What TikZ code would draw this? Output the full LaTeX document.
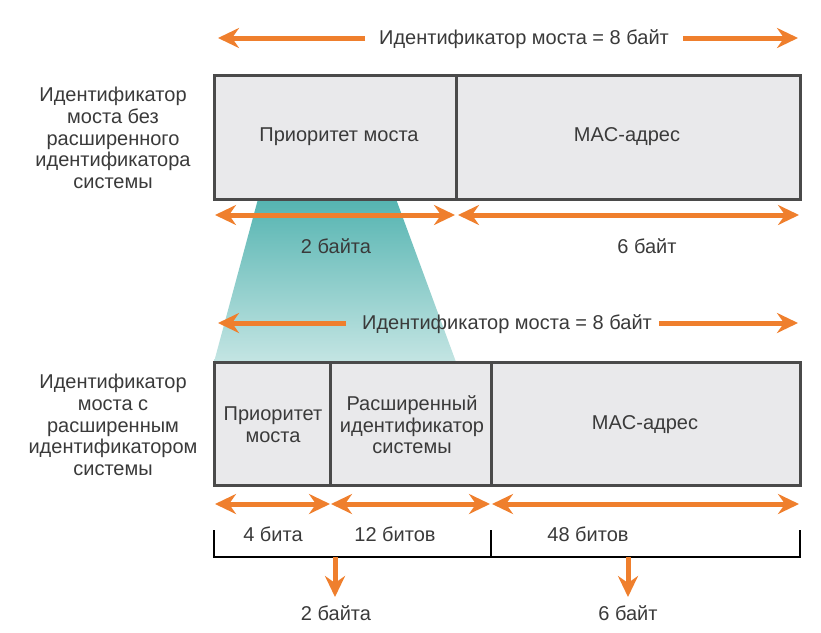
\documentclass[tikz,border=0pt]{standalone}
\usepackage{fontspec}
\setmainfont{Liberation Sans}
\usetikzlibrary{arrows.meta}
\definecolor{org}{HTML}{EF7F2D}
\definecolor{txt}{HTML}{3A3A3A}
\definecolor{boxfill}{HTML}{E9E9EB}
\definecolor{boxline}{HTML}{4A4A4A}
\definecolor{tealtop}{HTML}{55B4B1}
\definecolor{tealbot}{HTML}{C4E5E3}
\tikzset{
  lbl/.style={text=txt, font=\fontsize{20}{21.6}\selectfont, align=center, inner sep=0pt},
  fieldbox/.style={draw=boxline, line width=3pt, fill=boxfill},
  oarr/.style={draw=org, line width=5pt, -{Stealth[length=21pt,width=20pt,inset=7pt]}},
  oarr2/.style={draw=org, line width=5pt, {Stealth[length=21pt,width=20pt,inset=7pt]}-{Stealth[length=21pt,width=20pt,inset=7pt]}},
  brk/.style={draw=black, line width=1.2pt},
}
\begin{document}
\begin{tikzpicture}[x=1pt,y=-1pt]
\useasboundingbox (0,0) rectangle (821,632);
% trapezoid
\shade[top color=tealtop, bottom color=tealbot] (258,199) -- (396,199) -- (456,362) -- (214,362) -- cycle;
% top section
\node[lbl] (t1) at (524,39) {Идентификатор моста = 8 байт};
\coordinate (t1l) at (218,38);
\coordinate (t1r) at (798,38);
\draw[oarr] (365,38) -- (t1l);
\draw[oarr] (683,38) -- (t1r);
\draw[fieldbox] (214,75) rectangle (800,199);
\draw[boxline, line width=3pt] (456,75) -- (456,199);
\node[lbl] (p1) at (339,137) {Приоритет моста};
\node[lbl] (m1) at (627,137) {MAC-адрес};
\node[lbl] (L1) at (113,138) {Идентификатор\\моста без\\расширенного\\идентификатора\\системы};
\coordinate (a1) at (215,215); \coordinate (a2) at (455,215);
\coordinate (a3) at (458,215); \coordinate (a4) at (799,215);
\draw[oarr2] (a1) -- (a2);
\draw[oarr2] (a3) -- (a4);
\node[lbl] (b2) at (336,246) {2 байта};
\node[lbl] (b6) at (647,246) {6 байт};
% middle
\node[lbl] (t2) at (507,324) {Идентификатор моста = 8 байт};
\coordinate (t2l) at (218,323);
\coordinate (t2r) at (798,323);
\draw[oarr] (346,323) -- (t2l);
\draw[oarr] (659,323) -- (t2r);
% bottom box
\draw[fieldbox] (214,362) rectangle (800,485);
\draw[boxline, line width=3pt] (330,362) -- (330,485);
\draw[boxline, line width=3pt] (491,362) -- (491,485);
\node[lbl] (p2) at (273,425) {Приоритет\\моста};
\node[lbl] (e2) at (412,425) {Расширенный\\идентификатор\\системы};
\node[lbl] (m2) at (645,425) {MAC-адрес};
\node[lbl] (L2) at (113,425) {Идентификатор\\моста с\\расширенным\\идентификатором\\системы};
\coordinate (c1) at (215,504); \coordinate (c2) at (330,504);
\coordinate (c3) at (331,504); \coordinate (c4) at (490,504);
\coordinate (c5) at (492,504); \coordinate (c6) at (799,504);
\draw[oarr2] (c1) -- (c2);
\draw[oarr2] (c3) -- (c4);
\draw[oarr2] (c5) -- (c6);
\node[lbl] (n4) at (273,534) {4 бита};
\node[lbl] (n12) at (395,534) {12 битов};
\node[lbl] (n48) at (588,534) {48 битов};
% bracket
\coordinate (k1) at (214,530); \coordinate (k2) at (214,557);
\coordinate (k3) at (491,530); \coordinate (k4) at (491,557);
\coordinate (k5) at (800,530); \coordinate (k6) at (800,557);
\draw[brk] (k1) -- (k2) -- (k6) -- (k5);
\draw[brk] (k3) -- (k4);
\coordinate (d1) at (335,557); \coordinate (d2) at (628,557);
\node[lbl] (r2) at (336,613) {2 байта};
\node[lbl] (r6) at (628,613) {6 байт};
\draw[oarr] (d1) -- (335,597);
\draw[oarr] (d2) -- (628,597);
\end{tikzpicture}
\end{document}
